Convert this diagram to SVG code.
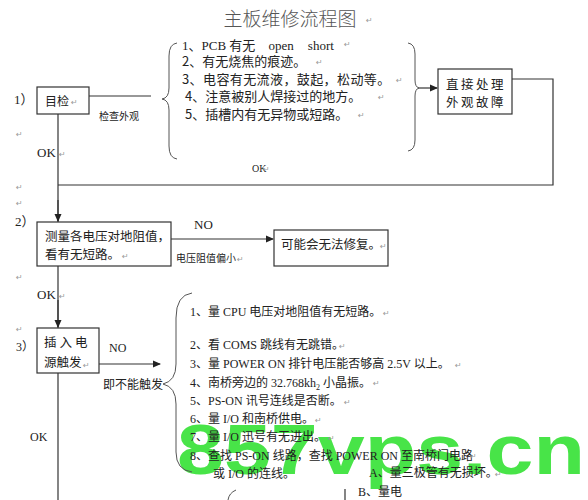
<svg xmlns="http://www.w3.org/2000/svg" width="588" height="500" viewBox="0 0 588 500">
<style>
.t{font-family:"Liberation Serif","Noto Sans CJK SC",serif;fill:#222}
.s{font-family:"Noto Sans CJK SC",sans-serif;fill:#222}
.box{fill:#fff;stroke:#333;stroke-width:1.2}
.ln{fill:none;stroke:#333;stroke-width:1.2}
.br{fill:none;stroke:#555;stroke-width:1}
.pm{font-family:"DejaVu Sans",sans-serif;font-size:8px;fill:#999}
</style>
<defs>
<marker id="ah" markerWidth="8" markerHeight="8" refX="7" refY="4" orient="auto" markerUnits="userSpaceOnUse">
<path d="M0,0.5 L8,4 L0,7.5 Z" fill="#222"/>
</marker>
</defs>
<rect width="588" height="500" fill="#fff"/>
<text id="watermark" x="177" y="474" font-family="Liberation Sans,sans-serif" font-weight="bold" font-size="70" fill="#48e448" textLength="408" lengthAdjust="spacingAndGlyphs">857vps.cn</text>
<text x="290" y="26" class="s" font-size="19" font-weight="300" text-anchor="middle" style="fill:#555">主板维修流程图</text>
<g id="connectors">
<line class="ln" x1="58" y1="114" x2="58" y2="500"/>
<line class="ln" x1="58" y1="200" x2="58" y2="221" marker-end="url(#ah)"/>
<line class="ln" x1="58" y1="300" x2="58" y2="327" marker-end="url(#ah)"/>
<line class="ln" x1="89" y1="96" x2="151" y2="96"/>
<line class="ln" x1="418" y1="88" x2="437" y2="88" marker-end="url(#ah)"/>
<polyline class="ln" points="512,79 553,79 553,185 58,185"/>
<line class="ln" x1="171" y1="239" x2="273" y2="239" marker-end="url(#ah)"/>
<line class="ln" x1="99" y1="364" x2="160" y2="364" marker-end="url(#ah)"/>
<line class="ln" x1="345" y1="489" x2="345" y2="500"/>
</g>
<g id="braces">
<path class="br" d="M177,43 Q169,44 169,56 L169,88 Q169,98 162,99 Q169,100 169,110 L169,146 Q169,158 177,159"/>
<path class="br" d="M408,43 Q415,44 415,54 L415,80 Q415,87 419,88 Q415,89 415,96 L415,140 Q415,150 408,151"/>
<path class="br" d="M192,293 Q176,295 176,318 L176,364 Q176,381 163,384 Q176,387 176,404 L176,452 Q176,470 192,472"/>
<path class="br" d="M236,490 Q229,493 228,500"/>
</g>
<g id="n1">
<rect class="box" x="37" y="87" width="52" height="27"/>
<text x="45" y="106" class="s" font-size="12">目检</text>
</g>
<g id="n1-list">
<text class="t" font-size="13" x="182" y="50">1、PCB 有无 <tspan dx="10">open</tspan><tspan dx="14">short</tspan></text>
<text class="s" font-size="13" x="182" y="66">2、有无烧焦的痕迹。</text>
<text class="s" font-size="13" x="182" y="84" letter-spacing="0.4">3、电容有无流液，鼓起，松动等。</text>
<text class="s" font-size="13" x="185" y="101">4、注意被别人焊接过的地方。</text>
<text class="s" font-size="13" x="185" y="119">5、插槽内有无异物或短路。</text>
</g>
<g id="n2">
<rect class="box" x="438" y="69" width="74" height="45"/>
<text x="446" y="89" class="s" font-size="12.5" letter-spacing="2.5">直接处理</text>
<text x="446" y="107" class="s" font-size="12.5" letter-spacing="2.5">外观故障</text>
</g>
<g id="n3">
<rect class="box" x="37" y="222" width="134" height="44"/>
<text x="45" y="241" class="s" font-size="12.5">测量各电压对地阻值，</text>
<text x="45" y="259" class="s" font-size="12.5">看有无短路。</text>
</g>
<g id="n4">
<rect class="box" x="274" y="230" width="114" height="36"/>
<text x="281" y="249" class="s" font-size="12.5">可能会无法修复。</text>
</g>
<g id="n5">
<rect class="box" x="37" y="328" width="62" height="45"/>
<text x="44" y="347" class="s" font-size="12.5" letter-spacing="3">插入电</text>
<text x="44" y="367" class="s" font-size="12.5">源触发</text>
</g>
<g id="n5-list">
<text class="t" font-size="12" x="190" y="316">1、量 CPU 电压对地阻值有无短路。</text>
<text class="t" font-size="12" x="190" y="349">2、看 COMS 跳线有无跳错。</text>
<text class="t" font-size="12" x="190" y="368">3、量 POWER ON 排针电压能否够高 2.5V 以上。</text>
<text class="t" font-size="12" x="190" y="387">4、南桥旁边的 32.768kh<tspan font-size="8" dy="3">2</tspan><tspan dy="-3"> 小晶振。</tspan></text>
<text class="t" font-size="12" x="190" y="405">5、PS-ON 讯号连线是否断。</text>
<text class="t" font-size="12" x="190" y="423">6、量 I/O 和南桥供电。</text>
<text class="t" font-size="12" x="190" y="441">7、量 I/O 迅号有无进出。</text>
<text class="t" font-size="12" x="190" y="460">8、查找 PS-ON 线路，查找 POWER ON 至南桥门电路</text>
<text class="t" font-size="12" x="213" y="478">或 I/O 的连线。</text>
<text class="t" font-size="12" x="369" y="477">A、量三极管有无损坏。</text>
<text class="t" font-size="12" x="358" y="496">B、量电</text>
</g>
<g id="labels">
<text class="t" font-size="13" x="14" y="104">1）</text>
<text class="s" font-size="10" x="99" y="120">检查外观</text>
<text class="t" font-size="13" x="37" y="157">OK</text>
<text class="t" font-size="10" x="252" y="172">OK</text>
<text class="t" font-size="13" x="15" y="226">2）</text>
<text class="t" font-size="13" x="194" y="229">NO</text>
<text class="s" font-size="10" x="176" y="262">电压阻值偏小</text>
<text class="t" font-size="13" x="37" y="299">OK</text>
<text class="t" font-size="12" x="16" y="351">3）</text>
<text class="t" font-size="12" x="109" y="352">NO</text>
<text class="s" font-size="12" x="103" y="389">即不能触发</text>
<text class="t" font-size="12" x="30" y="441">OK</text>
</g>
<g id="marks">
<text class="pm" x="16" y="137">↵</text>
<text class="pm" x="16" y="190">↵</text>
<text class="pm" x="16" y="206">↵</text>
<text class="pm" x="16" y="280">↵</text>
<text class="pm" x="16" y="332">↵</text>
<text class="pm" x="71" y="105">↵</text>
<text class="pm" x="59" y="157">↵</text>
<text class="pm" x="263" y="172">↵</text>
<text class="pm" x="344" y="47">↵</text>
<text class="pm" x="316" y="65">↵</text>
<text class="pm" x="396" y="83">↵</text>
<text class="pm" x="378" y="100">↵</text>
<text class="pm" x="358" y="118">↵</text>
<text class="pm" x="366" y="23">↵</text>
<text class="pm" x="122" y="259">↵</text>
<text class="pm" x="237" y="262">↵</text>
<text class="pm" x="380" y="249">↵</text>
<text class="pm" x="59" y="299">↵</text>
<text class="pm" x="83" y="368">↵</text>
<text class="pm" x="383" y="316">↵</text>
<text class="pm" x="339" y="349">↵</text>
<text class="pm" x="455" y="368">↵</text>
<text class="pm" x="373" y="386">↵</text>
<text class="pm" x="344" y="405">↵</text>
<text class="pm" x="315" y="423">↵</text>
<text class="pm" x="328" y="441">↵</text>
<text class="pm" x="470" y="459">↵</text>
<text class="pm" x="495" y="477">↵</text>
</g>
</svg>
